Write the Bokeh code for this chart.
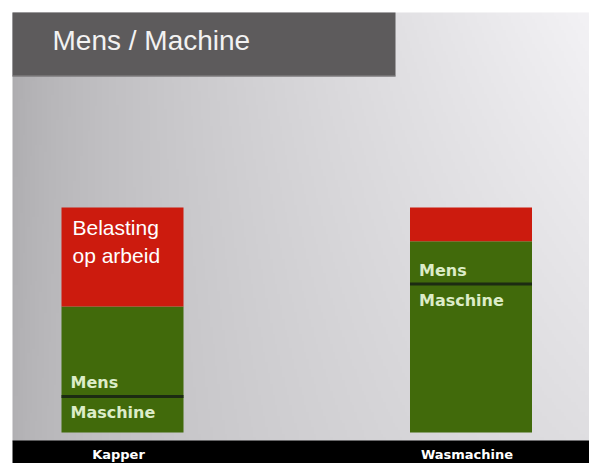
import numpy as np
from bokeh.plotting import figure
from bokeh.models import Range1d, ColumnDataSource
from bokeh.core.properties import value
from bokeh.embed import file_html
from bokeh.resources import INLINE

# ---- data (share of cost per category, %) ----
categories = ["Kapper", "Wasmachine"]
maschine = [16, 66]
mens = [40, 19]
belasting = [44, 15]
layer_names = ["maschine", "mens", "belasting"]
title_text = "Mens / Machine"
belasting_label = "Belasting\nop arbeid"

# ---- layout helpers (pixel -> data for decorative pieces) ----
W, H = 589, 463
X_C0, X_SCALE = 122.0, 348.5
Y_BASE, Y_SCALE = 432.0, 2.25


def dx(px):
    return (px - X_C0) / X_SCALE


def dy(py):
    return (Y_BASE - py) / Y_SCALE


p = figure(width=W, height=H, output_backend="svg", toolbar_location=None,
           x_range=Range1d(dx(0), dx(W)), y_range=Range1d(dy(H), dy(0)),
           min_border=0, outline_line_color=None)
p.axis.visible = False
p.xgrid.visible = False
p.ygrid.visible = False
p.background_fill_color = "white"
p.border_fill_color = "white"

# ---- background gradient ----
nx, ny = 240, 120
t = np.linspace(0, 1, nx)[None, :]
yf = np.linspace(0, 1, ny)[:, None]  # 0 bottom, 1 top
g = 172 + 70 * t ** 0.7 - 20 * t * (1 - yf) + 4 * (1 - yf) * (1 - t)
g = np.clip(g, 0, 255)
img = np.zeros((ny, nx), dtype=np.uint32)
view = img.view(dtype=np.uint8).reshape((ny, nx, 4))
view[:, :, 0] = np.clip(g + 1, 0, 255).astype(np.uint8)
view[:, :, 1] = g.astype(np.uint8)
view[:, :, 2] = np.clip(g + 3, 0, 255).astype(np.uint8)
view[:, :, 3] = 255
p.image_rgba(image=[img], x=dx(12), y=dy(441), dw=dx(589) - dx(12), dh=dy(12) - dy(441))

# ---- title box ----
p.quad(left=dx(12), right=dx(395), bottom=dy(76), top=dy(12), fill_color="#5d5b5c", line_color=None)
p.segment(x0=dx(12), x1=dx(395), y0=dy(75.5), y1=dy(75.5), line_color="#8c8a8b", line_width=1)
p.text(x=[dx(52)], y=[dy(40)], text=[title_text], text_font=value("Liberation Sans"),
       text_font_size="28px", text_color="#f2f2f2", text_baseline="middle", text_align="left")

# ---- bottom black band ----
p.quad(left=dx(12), right=dx(589), bottom=dy(463), top=dy(440), fill_color="black", line_color=None)

# ---- bars ----
xs = list(range(len(categories)))
src = ColumnDataSource(dict(x=xs, maschine=maschine, mens=mens, belasting=belasting))
bar_w = 122 / X_SCALE
p.vbar_stack(layer_names, x="x", width=bar_w, source=src,
             fill_color=["#416a0b", "#416a0b", "#cc1b0e"], line_color=None)

# divider between Maschine and Mens
half = bar_w / 2
p.segment(x0=[x - half for x in xs], x1=[x + half for x in xs], y0=maschine, y1=maschine,
          line_color="#1c2b12", line_width=3)

lefts = [x - half for x in xs]
p.text(x=lefts, y=maschine, text=["Mens"] * len(xs), x_offset=9, y_offset=-14,
       text_font=value("DejaVu Sans"), text_font_style="bold", text_font_size="16px",
       text_color="#dcecc8", text_baseline="middle", text_align="left")
p.text(x=lefts, y=maschine, text=["Maschine"] * len(xs), x_offset=9, y_offset=16,
       text_font=value("DejaVu Sans"), text_font_style="bold", text_font_size="16px",
       text_color="#dcecc8", text_baseline="middle", text_align="left")

# Belasting label in first bar
tops = [a + b + c for a, b, c in zip(maschine, mens, belasting)]
p.text(x=[lefts[0]], y=[tops[0]], text=[belasting_label], x_offset=11, y_offset=8,
       text_font=value("Liberation Sans"), text_font_size="21px", text_color="white",
       text_baseline="top", text_align="left", text_line_height=1.25)

# category labels in black band
p.text(x=xs, y=[dy(454)] * len(xs), text=categories, x_offset=-4,
       text_font=value("DejaVu Sans"), text_font_style="bold", text_font_size="13px",
       text_color="white", text_baseline="middle", text_align="center")

open("out.html", "w").write(file_html(p, INLINE))
